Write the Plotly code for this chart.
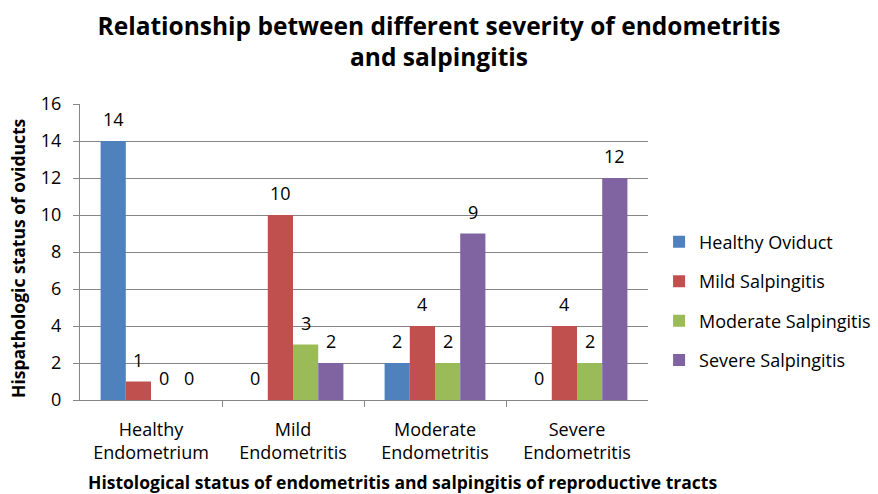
import plotly.graph_objects as go

categories = ["Healthy<br>Endometrium", "Mild<br>Endometritis", "Moderate<br>Endometritis", "Severe<br>Endometritis"]
series_names = ["Healthy Oviduct", "Mild Salpingitis", "Moderate Salpingitis", "Severe Salpingitis"]
healthy_oviduct = [14, 0, 2, 0]
mild_salpingitis = [1, 10, 4, 4]
moderate_salpingitis = [0, 3, 2, 2]
severe_salpingitis = [0, 2, 9, 12]
colors = ["#4F81BD", "#C0504D", "#9BBB59", "#8064A2"]

x_title = "<b>Histological status of endometritis and salpingitis of reproductive tracts</b>"
y_title = "<b>Hispathologic status of oviducts</b>"

FONT = "Open Sans"
SIZE = 18
BARGAP = 0.29
x_pos = list(range(len(categories)))
all_series = [healthy_oviduct, mild_salpingitis, moderate_salpingitis, severe_salpingitis]

fig = go.Figure()
bar_w = (1 - BARGAP) / len(all_series)
annotations = []
for i, (name, vals) in enumerate(zip(series_names, all_series)):
    fig.add_trace(go.Bar(
        x=x_pos, y=vals, name=name, legendgroup=name,
        marker=dict(color=colors[i], line=dict(width=0)),
    ))
    # value labels above each bar in the group
    offset = (i - (len(all_series) - 1) / 2) * bar_w
    for xp, v in zip(x_pos, vals):
        annotations.append(dict(
            x=xp + offset, y=v, xref="x", yref="y", text=str(v),
            showarrow=False, yanchor="bottom", yshift=8,
            font=dict(family=FONT, size=SIZE, color="#000000"),
        ))

# axis titles
annotations.append(dict(
    x=0.567, y=-0.276, xref="paper", yref="paper", text=x_title,
    showarrow=False, xanchor="center", yanchor="middle",
    font=dict(family=FONT, size=17.5, color="#000000"),
))
annotations.append(dict(
    x=-0.109, y=0.48, xref="paper", yref="paper", text=y_title, textangle=-90,
    showarrow=False, xanchor="center", yanchor="middle",
    font=dict(family=FONT, size=17.5, color="#000000"),
))

fig.update_layout(
    width=878, height=494,
    margin=dict(l=80, r=230, t=104, b=94, autoexpand=False),
    paper_bgcolor="white", plot_bgcolor="white",
    barmode="group", bargap=BARGAP, bargroupgap=0,
    font=dict(family=FONT, size=SIZE, color="#000000"),
    title=dict(
        text="<b>Relationship between different severity of endometritis<br>and salpingitis</b>",
        x=0.5, xanchor="center", xref="container", yref="container", y=0.93, yanchor="middle",
        font=dict(family=FONT, size=24.5, color="#000000"),
    ),
    legend=dict(
        x=1.0195, xanchor="left", y=0.334, yanchor="middle",
        font=dict(family=FONT, size=SIZE), tracegroupgap=13,
        itemwidth=30, bgcolor="rgba(0,0,0,0)",
    ),
    showlegend=True,
    annotations=annotations,
)

fig.update_xaxes(
    range=[-0.5, 3.5], tickvals=x_pos, ticktext=categories,
    ticks="", showgrid=False, showline=True, linecolor="#868686", linewidth=1,
    tickfont=dict(family=FONT, size=SIZE), ticklabelstandoff=13,
    minor=dict(tickvals=[0.5, 1.5, 2.5], ticks="outside", ticklen=6, tickcolor="#868686", showgrid=False),
    zeroline=False,
)
fig.update_yaxes(
    range=[0, 16], dtick=2, ticks="outside", ticklen=6, tickcolor="#868686",
    showgrid=True, gridcolor="#868686", gridwidth=1,
    showline=True, linecolor="#868686", linewidth=1, zeroline=False,
    tickfont=dict(family=FONT, size=SIZE), ticklabelstandoff=8,
)

fig.write_html("out.html")
